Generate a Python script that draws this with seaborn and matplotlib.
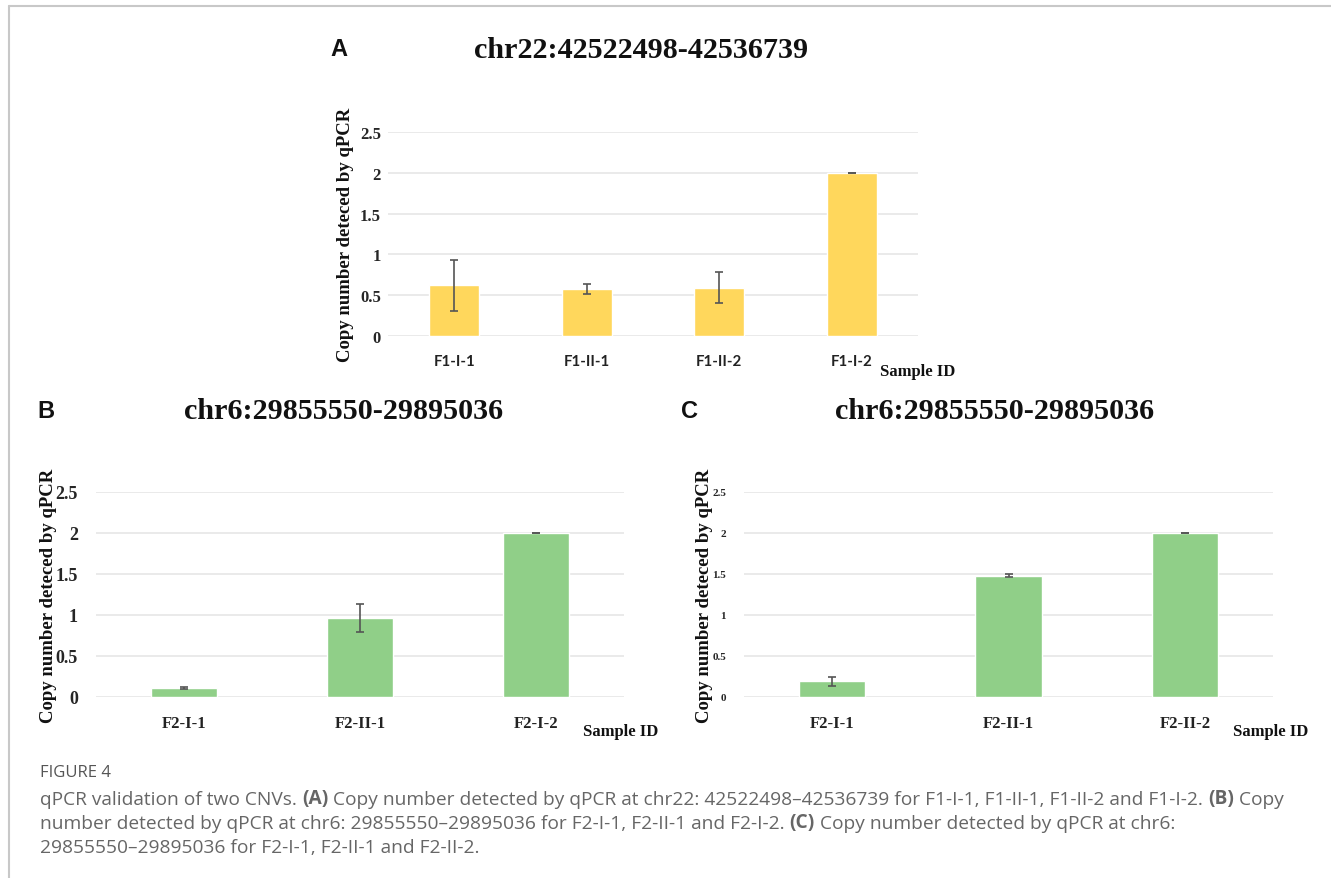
import numpy as np
import pandas as pd
import seaborn as sns
import matplotlib.pyplot as plt
from matplotlib.lines import Line2D

# panel A data
samples_a = ["F1-I-1", "F1-II-1", "F1-II-2", "F1-I-2"]
copy_a = [0.62, 0.58, 0.59, 2.0]
err_a = [0.31, 0.06, 0.19, 0.003]

# panel B data
samples_b = ["F2-I-1", "F2-II-1", "F2-I-2"]
copy_b = [0.11, 0.96, 2.0]
err_b = [0.015, 0.17, 0.003]

# panel C data
samples_c = ["F2-I-1", "F2-II-1", "F2-II-2"]
copy_c = [0.19, 1.48, 2.0]
err_c = [0.05, 0.02, 0.003]

yticks = [0, 0.5, 1, 1.5, 2, 2.5]
ytick_labels = ["0", "0.5", "1", "1.5", "2", "2.5"]

sns.set_theme(style="white")
serif = "Liberation Serif"
yellow = "#FFD75C"
green = "#90CF88"

fig = plt.figure(figsize=(13.31, 8.79), dpi=100)
W, H = 1331, 879


def px_axes(left, top, right, bottom):
    return fig.add_axes([left / W, 1 - bottom / H, (right - left) / W, (bottom - top) / H])


def panel(ax, samples, vals, errs, color, ytick_size, xtick_font, xtick_size, ylab_off, ytick_pad):
    df = pd.DataFrame({"Sample": samples, "Copy": vals})
    sns.barplot(data=df, x="Sample", y="Copy", color=color, width=0.375,
                saturation=1, ax=ax, errorbar=None)
    ax.errorbar(samples, vals, yerr=errs, fmt="none", ecolor="#555555",
                elinewidth=1.2, capsize=3, capthick=1.2)
    ax.set_xlim(-0.5, len(samples) - 0.5)
    ax.set_ylim(0, 2.5)
    ax.set_yticks(yticks)
    ax.set_yticklabels(ytick_labels, fontfamily=serif, fontweight="bold", fontsize=ytick_size)
    for lbl in ax.get_xticklabels():
        lbl.set_fontfamily(xtick_font)
        lbl.set_fontweight("bold")
        lbl.set_fontsize(xtick_size)
        lbl.set_color("#222222")
    ax.grid(axis="y", color="#e6e6e6", lw=1.2)
    ax.set_axisbelow(True)
    for s in ax.spines.values():
        s.set_visible(False)
    ax.tick_params(axis="x", length=0, pad=13)
    ax.tick_params(axis="y", length=0, pad=ytick_pad)
    ax.set_xlabel("")
    ax.set_ylabel("Copy number deteced by qPCR", fontfamily=serif, fontweight="bold",
                  fontsize=13.5, color="#111111")
    ax.yaxis.set_label_coords(ylab_off, 0.5)


axA = px_axes(388, 133, 918, 337)
panel(axA, samples_a, copy_a, err_a, yellow, 12, "Lato", 10.8, -34 / 530, 5)
axB = px_axes(96, 493, 624, 698)
panel(axB, samples_b, copy_b, err_b, green, 13, serif, 12, -39 / 528, 13)
axC = px_axes(744, 493, 1273, 698)
panel(axC, samples_c, copy_c, err_c, green, 8, serif, 12, -31 / 529, 13)

# titles and panel letters
tkw = dict(fontfamily=serif, fontweight="bold", fontsize=21.7, ha="center", va="center", color="#111111")
fig.text(641 / W, 1 - 50 / H, "chr22:42522498-42536739", **tkw)
fig.text(344 / W, 1 - 412 / H, "chr6:29855550-29895036", **tkw)
fig.text(995 / W, 1 - 412 / H, "chr6:29855550-29895036", **tkw)
lkw = dict(fontfamily="Liberation Sans", fontweight="bold", fontsize=17, va="center", color="#111111")
fig.text(330 / W, 1 - 50 / H, "A", **lkw)
fig.text(37 / W, 1 - 412 / H, "B", **lkw)
fig.text(681 / W, 1 - 412 / H, "C", **lkw)

skw = dict(fontfamily=serif, fontweight="bold", fontsize=12, va="center", color="#111111")
fig.text(880 / W, 1 - 372 / H, "Sample ID", **skw)
fig.text(583 / W, 1 - 732 / H, "Sample ID", **skw)
fig.text(1233 / W, 1 - 732 / H, "Sample ID", **skw)

# border lines
fig.add_artist(Line2D([9 / W, 1], [1 - 7 / H, 1 - 7 / H], transform=fig.transFigure, color="#c8c8c8", lw=1.5))
fig.add_artist(Line2D([9 / W, 9 / W], [0, 1 - 7 / H], transform=fig.transFigure, color="#c8c8c8", lw=1.5))

# caption
cap = fig.add_axes([0, 0, 1, 1], zorder=-1)
cap.axis("off")
cap.set_xlim(0, W)
cap.set_ylim(H, 0)
cfont = "Open Sans"
ccol = "#666666"
cap.text(40, 773, "FIGURE 4", fontfamily=cfont, fontsize=12, color="#555555", va="center")

lines = [
    [("qPCR validation of two CNVs. ", False), ("(A)", True),
     (" Copy number detected by qPCR at chr22: 42522498\u201342536739 for F1-I-1, F1-II-1, F1-II-2 and F1-I-2. ", False),
     ("(B)", True), (" Copy", False)],
    [("number detected by qPCR at chr6: 29855550\u201329895036 for F2-I-1, F2-II-1 and F2-I-2. ", False),
     ("(C)", True), (" Copy number detected by qPCR at chr6:", False)],
    [("29855550\u201329895036 for F2-I-1, F2-II-1 and F2-II-2.", False)],
]
line_y = [805, 829, 853]
for segs, y in zip(lines, line_y):
    prev = None
    for txt, bold in segs:
        kw = dict(fontfamily=cfont, fontsize=13.8, color=ccol,
                  fontweight="bold" if bold else "normal")
        if prev is None:
            prev = cap.text(40, y, txt, va="baseline", **kw)
        else:
            prev = cap.annotate(txt, xy=(1, 0), xycoords=prev, va="bottom", ha="left", **kw)

fig.savefig("out.png", dpi=100)
